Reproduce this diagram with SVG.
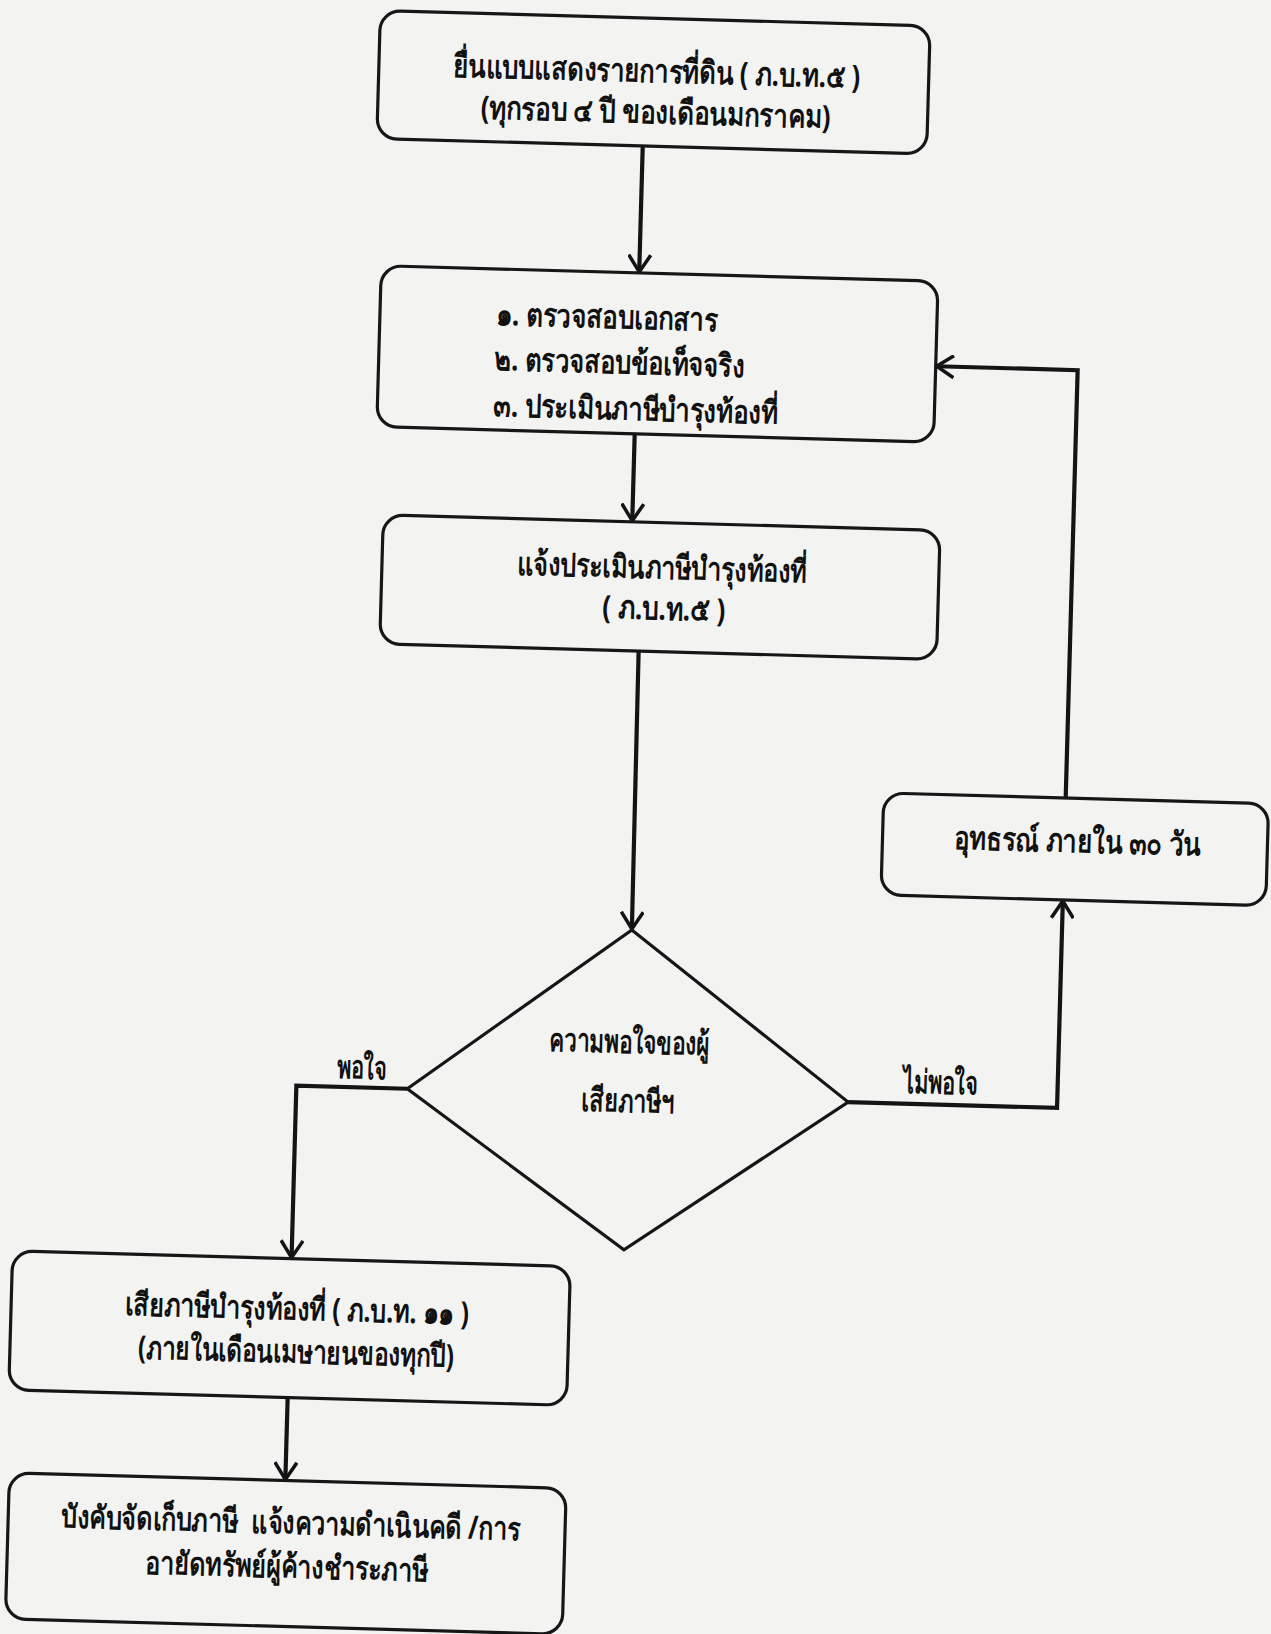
<svg xmlns="http://www.w3.org/2000/svg" width="1271" height="1634" viewBox="0 0 1271 1634">
<style>
.bx{fill:none;stroke:#161616;stroke-width:3.2}
.cn{fill:none;stroke:#141414;stroke-width:4.2}
.t{font-family:"Noto Sans","DejaVu Sans",sans-serif;font-weight:bold;font-size:32px;fill:#111}
.c{text-anchor:middle}
</style>
<defs>
<marker id="arr" viewBox="0 0 20 24" refX="18" refY="12" markerWidth="20" markerHeight="24" markerUnits="userSpaceOnUse" orient="auto">
<path d="M1,1 L18,12 L1,23" fill="none" stroke="#141414" stroke-width="3.5"/>
</marker>
</defs>
<rect x="0" y="0" width="1271" height="1634" fill="#f3f3f1"/>
<g transform="rotate(1.6 635 817)">
<g id="connectors">
<line class="cn" x1="624" y1="146" x2="624" y2="272" marker-end="url(#arr)"/>
<line class="cn" x1="624" y1="434" x2="624" y2="521" marker-end="url(#arr)"/>
<line class="cn" x1="634" y1="651" x2="635" y2="929" marker-end="url(#arr)"/>
<polyline class="cn" points="415,1095 304,1095 304,1267" marker-end="url(#arr)"/>
<polyline class="cn" points="856,1096 1065,1096 1065,889" marker-end="url(#arr)"/>
<polyline class="cn" points="1065,786 1065,358 924,358" marker-end="url(#arr)"/>
<line class="cn" x1="304" y1="1407" x2="304" y2="1489" marker-end="url(#arr)"/>
<text class="t c" x="369" y="1086" textLength="50" lengthAdjust="spacingAndGlyphs">พอใจ</text>
<text class="t c" x="948" y="1085" textLength="75" lengthAdjust="spacingAndGlyphs">ไม่พอใจ</text>
</g>
<g id="n1">
<rect class="bx" x="358" y="18" width="550" height="128" rx="20"/>
<text class="t c" x="636" y="82" textLength="407" lengthAdjust="spacingAndGlyphs">ยื่นแบบแสดงรายการที่ดิน ( ภ.บ.ท.๕ )</text>
<text class="t c" x="636" y="123" textLength="350" lengthAdjust="spacingAndGlyphs">(ทุกรอบ ๔ ปี ของเดือนมกราคม)</text>
</g>
<g id="n2">
<rect class="bx" x="366" y="273" width="557" height="161" rx="20"/>
<text class="t" x="482" y="329" textLength="222" lengthAdjust="spacingAndGlyphs">๑. ตรวจสอบเอกสาร</text>
<text class="t" x="482" y="374" textLength="250" lengthAdjust="spacingAndGlyphs">๒. ตรวจสอบข้อเท็จจริง</text>
<text class="t" x="482" y="420" textLength="285" lengthAdjust="spacingAndGlyphs">๓. ประเมินภาษีบำรุงท้องที่</text>
</g>
<g id="n3">
<rect class="bx" x="375" y="522" width="557" height="129" rx="20"/>
<text class="t c" x="655" y="578" textLength="290" lengthAdjust="spacingAndGlyphs">แจ้งประเมินภาษีบำรุงท้องที่</text>
<text class="t c" x="658" y="619" textLength="123" lengthAdjust="spacingAndGlyphs">( ภ.บ.ท.๕ )</text>
</g>
<g id="n4">
<polygon class="bx" points="635,930 856,1096 636,1250 415,1095"/>
<text class="t c" x="636" y="1053" textLength="160" lengthAdjust="spacingAndGlyphs">ความพอใจของผู้</text>
<text class="t c" x="636" y="1112" textLength="93" lengthAdjust="spacingAndGlyphs">เสียภาษีฯ</text>
</g>
<g id="n5">
<rect class="bx" x="883" y="786" width="385" height="102" rx="20"/>
<text class="t c" x="1078" y="840" textLength="247" lengthAdjust="spacingAndGlyphs">อุทธรณ์ ภายใน ๓๐ วัน</text>
</g>
<g id="n6">
<rect class="bx" x="25" y="1268" width="558" height="139" rx="20"/>
<text class="t c" x="311" y="1329" textLength="344" lengthAdjust="spacingAndGlyphs">เสียภาษีบำรุงท้องที่ ( ภ.บ.ท. ๑๑ )</text>
<text class="t c" x="311" y="1372" textLength="316" lengthAdjust="spacingAndGlyphs">(ภายในเดือนเมษายนของทุกปี)</text>
</g>
<g id="n7">
<rect class="bx" x="28" y="1490" width="557" height="146" rx="20"/>
<text class="t c" x="311" y="1543" textLength="459" lengthAdjust="spacingAndGlyphs" xml:space="preserve">บังคับจัดเก็บภาษี  แจ้งความดำเนินคดี /การ</text>
<text class="t c" x="308" y="1587" textLength="283" lengthAdjust="spacingAndGlyphs">อายัดทรัพย์ผู้ค้างชำระภาษี</text>
</g>
</g>
</svg>
